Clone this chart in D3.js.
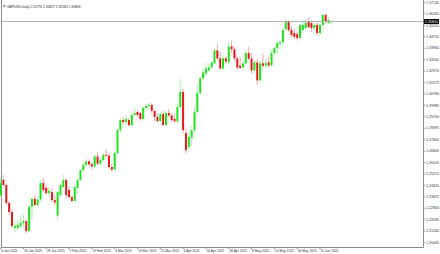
<!DOCTYPE html>
<html>
<head>
<meta charset="utf-8">
<script src="https://cdn.jsdelivr.net/npm/d3@7"></script>
<style>
body { margin: 0; background: #fff; }
svg { display: block; }
text { font-family: "Liberation Sans", Arial, sans-serif; }
</style>
</head>
<body>
<div class="svg-target"></div>
<script>
// Chart data (GBPUSD daily, one entry per trading day from 6 Jan 2025)
const symbol = 'GBPUSD,Daily';
const opens = [
    1.2371, 1.2476, 1.2441, 1.2316, 1.2253, 1.2142, 1.2142, 1.2156, 1.2177, 1.2190,
    1.2120, 1.2290, 1.2345, 1.2302, 1.2340, 1.2455, 1.2420, 1.2385, 1.2392, 1.2336,
    1.2230, 1.2371, 1.2427, 1.2476, 1.2406, 1.2357, 1.2330, 1.2420, 1.2476, 1.2545,
    1.2580, 1.2605, 1.2585, 1.2570, 1.2640, 1.2590, 1.2615, 1.2650, 1.2645, 1.2566,
    1.2548, 1.2664, 1.2823, 1.2893, 1.2879, 1.2893, 1.2858, 1.2928, 1.2949, 1.2942,
    1.2900, 1.2977, 1.2991, 1.2998, 1.2956, 1.2914, 1.2886, 1.2935, 1.2858, 1.2942,
    1.2925, 1.2900, 1.2885, 1.2984, 1.3088, 1.2802, 1.2705, 1.2770, 1.2823, 1.2949,
    1.3081, 1.3183, 1.3217, 1.3238, 1.3259, 1.3287, 1.3377, 1.3322, 1.3252, 1.3322,
    1.3294, 1.3405, 1.3385, 1.3322, 1.3270, 1.3259, 1.3287, 1.3359, 1.3320, 1.3238,
    1.3294, 1.3169, 1.3287, 1.3270, 1.3294, 1.3273, 1.3359, 1.3394, 1.3425, 1.3435,
    1.3525, 1.3575, 1.3519, 1.3498, 1.3490, 1.3464, 1.3519, 1.3533, 1.3575, 1.3568,
    1.3533, 1.3554, 1.3498, 1.3554, 1.3624, 1.3568, 1.3578
];
const highs = [
    1.2490, 1.2510, 1.2455, 1.2330, 1.2270, 1.2190, 1.2200, 1.2230, 1.2235, 1.2200,
    1.2300, 1.2350, 1.2370, 1.2355, 1.2470, 1.2490, 1.2435, 1.2425, 1.2420, 1.2370,
    1.2400, 1.2455, 1.2510, 1.2490, 1.2430, 1.2370, 1.2440, 1.2490, 1.2555, 1.2600,
    1.2625, 1.2620, 1.2600, 1.2655, 1.2665, 1.2630, 1.2665, 1.2690, 1.2660, 1.2590,
    1.2680, 1.2835, 1.2910, 1.2915, 1.2925, 1.2910, 1.2945, 1.2975, 1.2960, 1.2950,
    1.2990, 1.3005, 1.3015, 1.3010, 1.2965, 1.2935, 1.2950, 1.2955, 1.2960, 1.2970,
    1.2940, 1.2935, 1.3015, 1.3180, 1.3110, 1.2830, 1.2810, 1.2850, 1.2990, 1.3145,
    1.3200, 1.3250, 1.3290, 1.3285, 1.3305, 1.3395, 1.3423, 1.3365, 1.3340, 1.3340,
    1.3433, 1.3445, 1.3400, 1.3335, 1.3330, 1.3310, 1.3380, 1.3400, 1.3360, 1.3310,
    1.3320, 1.3310, 1.3355, 1.3320, 1.3335, 1.3380, 1.3405, 1.3440, 1.3450, 1.3530,
    1.3595, 1.3590, 1.3545, 1.3525, 1.3505, 1.3560, 1.3575, 1.3595, 1.3605, 1.3580,
    1.3570, 1.3575, 1.3565, 1.3631, 1.3630, 1.3610, 1.3583
];
const lows = [
    1.2360, 1.2430, 1.2300, 1.2235, 1.2140, 1.2110, 1.2125, 1.2140, 1.2150, 1.2105,
    1.2110, 1.2200, 1.2290, 1.2290, 1.2325, 1.2390, 1.2370, 1.2365, 1.2325, 1.2300,
    1.2200, 1.2360, 1.2420, 1.2350, 1.2345, 1.2320, 1.2320, 1.2380, 1.2470, 1.2535,
    1.2570, 1.2575, 1.2545, 1.2560, 1.2580, 1.2575, 1.2600, 1.2635, 1.2555, 1.2535,
    1.2540, 1.2650, 1.2805, 1.2860, 1.2860, 1.2845, 1.2850, 1.2915, 1.2915, 1.2890,
    1.2895, 1.2960, 1.2965, 1.2940, 1.2885, 1.2875, 1.2880, 1.2850, 1.2850, 1.2910,
    1.2875, 1.2875, 1.2870, 1.2975, 1.2800, 1.2660, 1.2680, 1.2710, 1.2800, 1.2935,
    1.3070, 1.3165, 1.3195, 1.3225, 1.3250, 1.3280, 1.3310, 1.3240, 1.3245, 1.3280,
    1.3285, 1.3360, 1.3300, 1.3245, 1.3245, 1.3240, 1.3280, 1.3310, 1.3215, 1.3220,
    1.3140, 1.3160, 1.3260, 1.3250, 1.3255, 1.3265, 1.3340, 1.3350, 1.3385, 1.3420,
    1.3515, 1.3505, 1.3465, 1.3455, 1.3445, 1.3450, 1.3505, 1.3520, 1.3530, 1.3505,
    1.3520, 1.3480, 1.3485, 1.3545, 1.3560, 1.3560, 1.3556
];
const closes = [
    1.2455, 1.2441, 1.2316, 1.2253, 1.2156, 1.2156, 1.2163, 1.2177, 1.2190, 1.2120,
    1.2290, 1.2345, 1.2302, 1.2340, 1.2455, 1.2406, 1.2385, 1.2400, 1.2336, 1.2320,
    1.2392, 1.2441, 1.2476, 1.2371, 1.2357, 1.2330, 1.2427, 1.2476, 1.2545, 1.2580,
    1.2605, 1.2585, 1.2570, 1.2640, 1.2590, 1.2615, 1.2650, 1.2645, 1.2566, 1.2548,
    1.2664, 1.2823, 1.2893, 1.2879, 1.2900, 1.2858, 1.2928, 1.2942, 1.2928, 1.2900,
    1.2977, 1.2991, 1.2998, 1.2956, 1.2914, 1.2886, 1.2935, 1.2858, 1.2942, 1.2925,
    1.2893, 1.2885, 1.2984, 1.3088, 1.2823, 1.2684, 1.2775, 1.2823, 1.2949, 1.3081,
    1.3183, 1.3224, 1.3252, 1.3259, 1.3294, 1.3377, 1.3322, 1.3252, 1.3322, 1.3300,
    1.3405, 1.3385, 1.3322, 1.3259, 1.3255, 1.3287, 1.3359, 1.3320, 1.3238, 1.3294,
    1.3169, 1.3287, 1.3270, 1.3290, 1.3273, 1.3359, 1.3394, 1.3429, 1.3435, 1.3519,
    1.3575, 1.3519, 1.3484, 1.3471, 1.3464, 1.3554, 1.3554, 1.3568, 1.3540, 1.3533,
    1.3554, 1.3498, 1.3554, 1.3624, 1.3575, 1.3589, 1.3581
];

// Time axis labels: bar index and text
const dateIndex = [0, 8, 16, 24, 32, 40, 48, 56, 64, 72, 80, 88, 96, 104, 112];
const dateLabels = ['6 Jan 2025', '16 Jan 2025', '28 Jan 2025', '7 Feb 2025', '19 Feb 2025',
    '3 Mar 2025', '13 Mar 2025', '25 Mar 2025', '4 Apr 2025', '16 Apr 2025',
    '28 Apr 2025', '8 May 2025', '20 May 2025', '30 May 2025', '11 Jun 2025'];

// Price axis labels
const priceTicks = [1.37140, 1.36345, 1.35550, 1.34755, 1.33960, 1.33165, 1.32370, 1.31575,
    1.30780, 1.29985, 1.29190, 1.28395, 1.27600, 1.26805, 1.26010, 1.25215,
    1.24420, 1.23625, 1.22830, 1.22035, 1.21240, 1.20445];

const headerValues = [1.35776, 1.35827, 1.35563, 1.35806];

const w = 440;
const h = 254;
const padding = {t: 2, r: 17, b: 7, l: 1};
const fontSize = 3.3;

const renderChart = () => {
    const svg = d3.select('.svg-target')
        .html('')
        .append('svg')
        .attr('width', w)
        .attr('height', h);

    const plotRight = w - padding.r;      // 423
    const plotBottom = h - padding.b;     // 247

    // Scales
    const xScale = d3.scaleLinear()
        .domain([0, 116])
        .range([0.6, 331.4]);
    const yScale = d3.scaleLinear()
        .domain([d3.min(priceTicks), d3.max(priceTicks)])
        .range([242, 2]);

    // Frame
    svg.append('path')
        .attr('d', `M${padding.l + 0.5},0 V${plotBottom + 0.5} H${plotRight + 0.5} V0`)
        .attr('fill', 'none')
        .attr('stroke', '#8a8a8a')
        .attr('stroke-width', 1);

    // Price axis (right)
    const yAxis = d3.axisRight(yScale)
        .tickValues(priceTicks)
        .tickSize(1.5)
        .tickPadding(1)
        .tickFormat(d3.format('.5f'));
    const yG = svg.append('g')
        .attr('transform', `translate(${plotRight + 0.5}, 0)`)
        .call(yAxis);
    yG.select('.domain').remove();
    yG.selectAll('line').attr('stroke', '#8a8a8a');
    yG.selectAll('text')
        .attr('font-family', '"Liberation Sans", Arial, sans-serif')
        .attr('font-size', 3.6)
        .attr('fill', '#333');

    // Time axis (bottom)
    const tG = svg.append('g');
    tG.selectAll('line')
        .data(dateIndex)
        .join('line')
        .attr('x1', d => xScale(d))
        .attr('x2', d => xScale(d))
        .attr('y1', plotBottom + 0.5)
        .attr('y2', plotBottom + 2)
        .attr('stroke', '#8a8a8a');
    tG.selectAll('text')
        .data(dateIndex)
        .join('text')
        .attr('x', d => xScale(d) + 0.5)
        .attr('y', 251.8)
        .attr('font-size', fontSize)
        .attr('fill', '#333')
        .text((d, i) => dateLabels[i]);

    // Candles
    const idx = d3.range(closes.length);
    const colour = i => closes[i] >= opens[i] ? '#1fe31f' : '#e41b1b';
    const candles = svg.append('g');
    candles.selectAll('line')
        .data(idx)
        .join('line')
        .attr('x1', i => xScale(i))
        .attr('x2', i => xScale(i))
        .attr('y1', i => yScale(highs[i]))
        .attr('y2', i => yScale(lows[i]))
        .attr('stroke', colour)
        .attr('stroke-opacity', 0.45)
        .attr('stroke-width', 0.9);
    candles.selectAll('rect')
        .data(idx)
        .join('rect')
        .attr('x', i => xScale(i) - 1)
        .attr('width', 2)
        .attr('y', i => yScale(Math.max(opens[i], closes[i])))
        .attr('height', i => Math.max(1, Math.abs(yScale(opens[i]) - yScale(closes[i]))))
        .attr('fill', colour);

    // Current price line and marker
    const last = closes[closes.length - 1];
    const yLast = Math.round(yScale(last)) + 0.5;
    svg.append('line')
        .attr('x1', padding.l)
        .attr('x2', plotRight)
        .attr('y1', yLast)
        .attr('y2', yLast)
        .attr('stroke', '#b4b4b4')
        .attr('stroke-width', 1);
    svg.append('rect')
        .attr('x', plotRight + 1)
        .attr('y', yLast - 2.5)
        .attr('width', 15)
        .attr('height', 5)
        .attr('fill', '#000');
    svg.append('text')
        .attr('x', plotRight + 2)
        .attr('y', yLast)
        .attr('dy', '0.35em')
        .attr('font-size', 3.6)
        .attr('fill', '#fff')
        .text(d3.format('.5f')(last));

    // Header
    svg.append('path')
        .attr('d', 'M3,5.5 h2.6 l-1.3,1.8 z')
        .attr('fill', '#333');
    svg.append('text')
        .attr('x', 7)
        .attr('y', 7.6)
        .attr('font-size', fontSize)
        .attr('fill', '#222')
        .text(symbol + '  ' + headerValues.map(d3.format('.5f')).join(' '));
};

renderChart();
</script>
</body>
</html>
